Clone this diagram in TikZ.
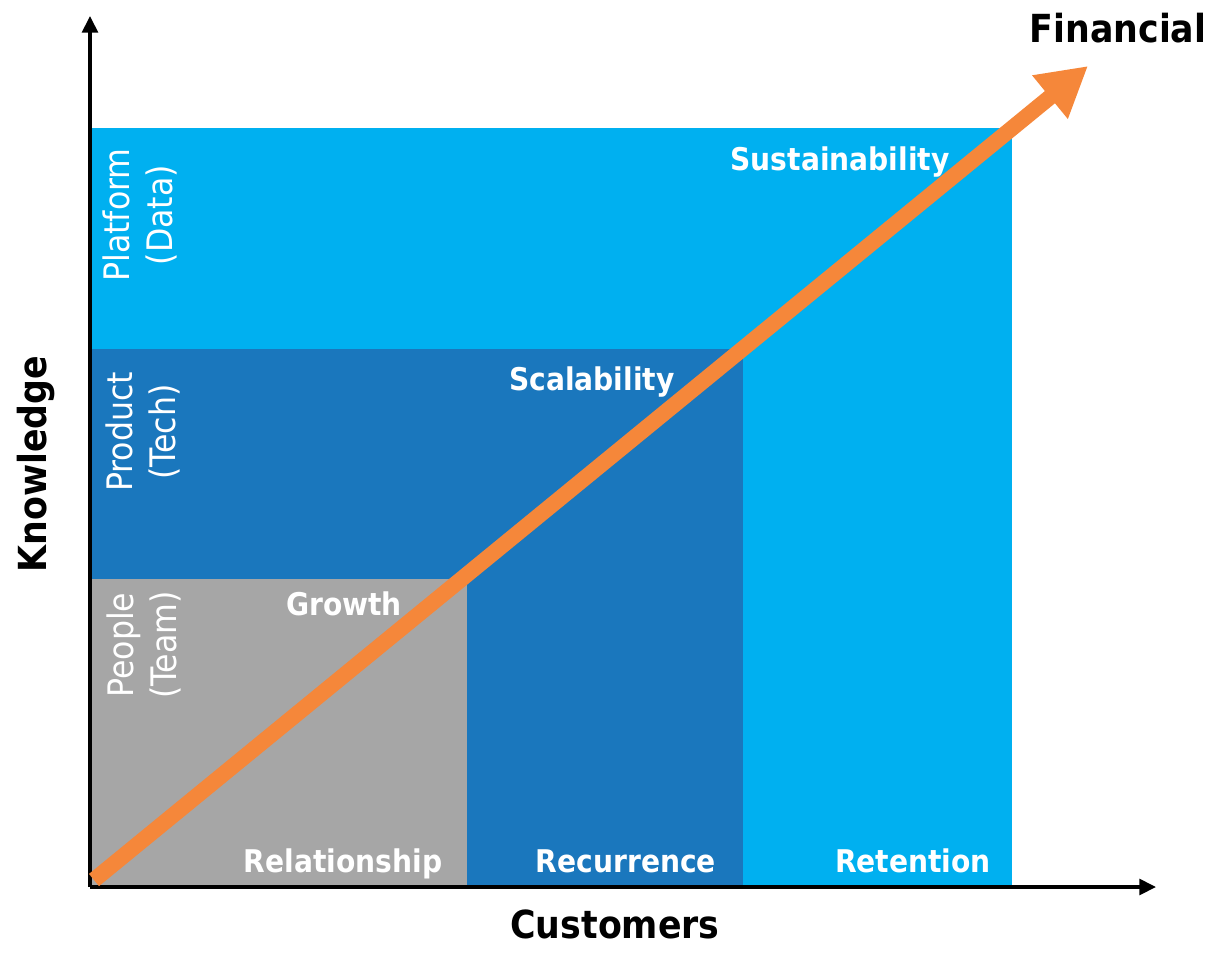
\documentclass[tikz,border=0pt]{standalone}
\usepackage{fontspec}
\setmainfont{DejaVu Sans Condensed}[BoldFont={DejaVu Sans Condensed Bold}]
\usetikzlibrary{arrows.meta}
\definecolor{lightbl}{HTML}{00B0F0}
\definecolor{darkbl}{HTML}{1A77BD}
\definecolor{greybox}{HTML}{A6A6A6}
\definecolor{arroworange}{HTML}{F5873A}

\begin{document}
\begin{tikzpicture}[x=0.02cm,y=-0.02cm,
  axislabel/.style={font=\bfseries\fontsize{22}{26}\selectfont, text=black},
  zonelabel/.style={font=\bfseries\fontsize{17.8}{21}\selectfont, text=white, anchor=base},
  sidelabel/.style={font=\fontsize{20}{25}\selectfont, text=white, rotate=90, align=center}]
\useasboundingbox (0,0) rectangle (1213,960);

% zones
\fill[lightbl] (91,128) rectangle (1012,886);
\fill[darkbl] (91,349) rectangle (743,886);
\fill[greybox] (91,579) rectangle (467,886);

% axes
\coordinate (o) at (90,887);
\coordinate (ytop) at (90,16);
\coordinate (xend) at (1156,887);
\draw[line width=2pt, -{Triangle[length=9.5pt,width=9pt]}] (o) -- (ytop);
\draw[line width=2pt, -{Triangle[length=9.5pt,width=9pt]}] (o) -- (xend);

% labels
\node[sidelabel] (platform) at (140,215) {Platform\\(Data)};
\node[sidelabel] (product) at (143,432) {Product\\(Tech)};
\node[sidelabel] (people) at (144,645) {People\\(Team)};

\node[zonelabel] (sustain) at (840,170) {Sustainability};
\node[zonelabel] (scal) at (592,390) {Scalability};
\node[zonelabel] (growth) at (344,615) {Growth};
\node[zonelabel] (relation) at (343,872) {Relationship};
\node[zonelabel] (recur) at (626,872) {Recurrence};
\node[zonelabel] (retain) at (913,872) {Retention};

% growth arrow
\coordinate (start) at (94,880);
\coordinate (tip) at (1088,66);
\draw[arroworange, line width=9pt, -{Triangle[length=28pt,width=30pt]}] (start) -- (tip);

\node[axislabel, anchor=base] (fin) at (1118,42) {Financial};
\node[axislabel, anchor=base] (cust) at (615,938) {Customers};
\node[axislabel, rotate=90] (know) at (36,464) {Knowledge};
\end{tikzpicture}
\end{document}
